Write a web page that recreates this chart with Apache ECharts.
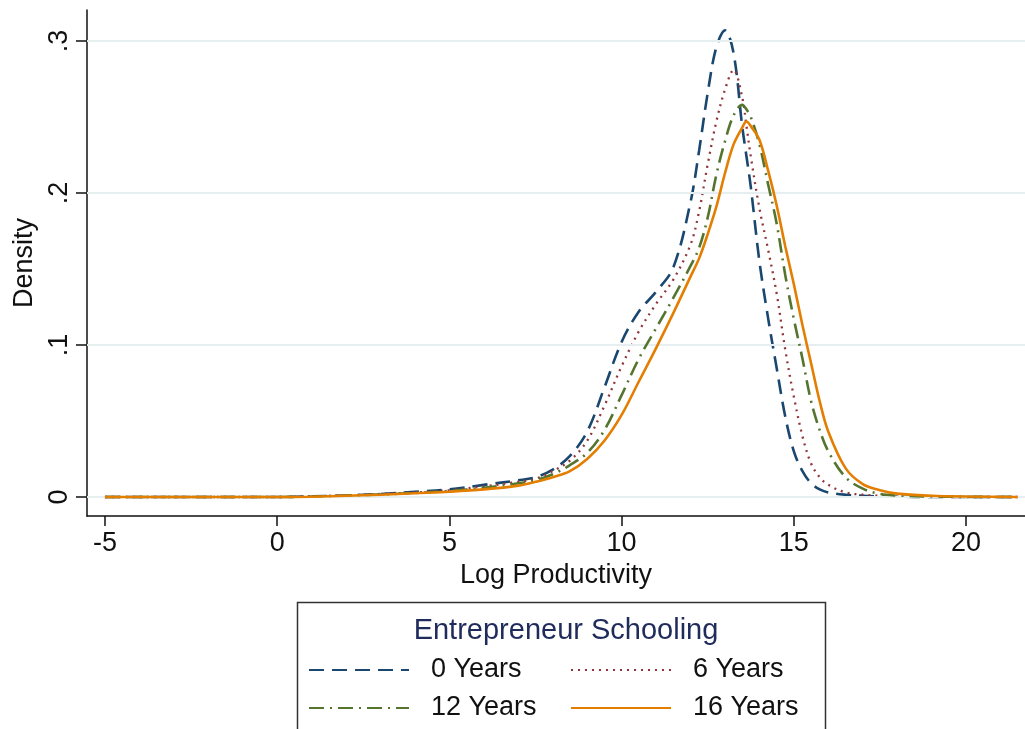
<!DOCTYPE html>
<html>
<head>
<meta charset="utf-8">
<script src="https://cdn.jsdelivr.net/npm/echarts@6/dist/echarts.min.js"></script>
<style>
html,body{margin:0;padding:0;background:#fff;}
#chart{width:1025px;height:729px;}
</style>
</head>
<body>
<div id="chart"></div>
<script>
// ---- data ----
const xs = [-5, -2, 0, 1, 2, 3, 4, 5, 6, 7, 7.5, 8, 8.5, 9, 9.5, 10, 10.5, 11, 11.5, 12, 12.25, 12.5, 12.75, 13, 13.25, 13.5, 13.625, 13.75, 14, 14.25, 14.5, 14.75, 15, 15.25, 15.5, 15.75, 16, 16.5, 17, 17.5, 18, 19, 20, 21.5];
const years0 = [0, 0, 0, 0.0005, 0.001, 0.002, 0.0035, 0.005, 0.008, 0.011, 0.013, 0.018, 0.027, 0.043, 0.072, 0.102, 0.122, 0.135, 0.151, 0.194, 0.228, 0.266, 0.296, 0.307, 0.292, 0.244, 0.224, 0.204, 0.155, 0.118, 0.085, 0.053, 0.03, 0.017, 0.009, 0.005, 0.003, 0.0015, 0.0008, 0.0004, 0.0002, 0, 0, 0];
const years6 = [0, 0, 0, 0.0004, 0.001, 0.002, 0.003, 0.0045, 0.007, 0.010, 0.012, 0.017, 0.024, 0.037, 0.060, 0.086, 0.109, 0.127, 0.143, 0.166, 0.188, 0.219, 0.247, 0.268, 0.281, 0.263, 0.244, 0.224, 0.19, 0.163, 0.134, 0.097, 0.066, 0.04, 0.022, 0.013, 0.008, 0.003, 0.0015, 0.0008, 0.0003, 0.0001, 0, 0];
const years12 = [0, 0, 0, 0.0003, 0.001, 0.0017, 0.0027, 0.004, 0.006, 0.009, 0.011, 0.015, 0.021, 0.029, 0.044, 0.067, 0.091, 0.111, 0.131, 0.152, 0.164, 0.184, 0.212, 0.234, 0.251, 0.258, 0.255, 0.25, 0.232, 0.206, 0.18, 0.146, 0.117, 0.091, 0.063, 0.044, 0.03, 0.013, 0.0055, 0.002, 0.001, 0.0003, 0.0001, 0];
const years16 = [0, 0, 0, 0.0002, 0.0008, 0.0015, 0.0025, 0.0035, 0.005, 0.0075, 0.010, 0.013, 0.017, 0.025, 0.037, 0.054, 0.076, 0.098, 0.121, 0.145, 0.157, 0.173, 0.191, 0.213, 0.232, 0.243, 0.247, 0.244, 0.235, 0.215, 0.192, 0.165, 0.14, 0.113, 0.088, 0.063, 0.043, 0.019, 0.0085, 0.0045, 0.0022, 0.0008, 0.0003, 0];
const seriesNames = ['0 Years', '6 Years', '12 Years', '16 Years'];
const xTicks = [-5, 0, 5, 10, 15, 20];
const yTicks = [0, 0.1, 0.2, 0.3];
const yTickLabels = ['0', '.1', '.2', '.3'];
const legendTitle = 'Entrepreneur Schooling';
const xTitle = 'Log Productivity';
const yTitle = 'Density';

// ---- styles ----
const FONT = 'Liberation Sans, Arial, sans-serif';
const FS = 27;
const colors = ['#1a476f', '#90353b', '#55752f', '#e37e00'];
const dashes = [[15, 8], [2, 5], [15, 6, 2, 6], 'solid'];
const widths = [2.6, 2.3, 2.6, 2.6];
const allValues = [years0, years6, years12, years16];

function pairs(vals) { return xs.map((x, i) => [x, vals[i]]); }

const series = allValues.map((vals, i) => ({
  name: seriesNames[i],
  type: 'line',
  data: pairs(vals),
  smooth: 0.35,
  symbol: 'none',
  showSymbol: false,
  z: 3 + i,
  lineStyle: { color: colors[i], width: widths[i], type: dashes[i] },
  itemStyle: { color: colors[i] }
}));
series.unshift({
  name: '__grid',
  type: 'line',
  data: [],
  z: 1,
  silent: true,
  markLine: {
    silent: true,
    symbol: ['none', 'none'],
    label: { show: false },
    lineStyle: { color: '#e6eef0', width: 2, type: 'solid' },
    data: yTicks.map(v => ({ yAxis: v }))
  }
});

function makeLegend(names, left) {
  return {
    data: names,
    orient: 'vertical',
    left: left,
    top: 655,
    height: 74,
    padding: 0,
    itemWidth: 100,
    itemHeight: 14,
    itemGap: 8,
    selectedMode: false,
    itemStyle: { opacity: 0 },
    textStyle: { fontSize: FS, color: '#111', lineHeight: 30, padding: [0, 0, 0, 17], fontFamily: FONT }
  };
}

const chart = echarts.init(document.getElementById('chart'), null, { renderer: 'canvas' });
chart.setOption({
  animation: false,
  backgroundColor: '#ffffff',
  textStyle: { fontFamily: FONT },
  grid: { left: 87, top: 10, right: 0, bottom: 213, containLabel: false },
  xAxis: {
    type: 'value',
    min: -5.52, max: 21.71,
    name: xTitle, nameLocation: 'middle', nameGap: 43,
    nameTextStyle: { fontSize: FS, color: '#111', fontFamily: FONT },
    axisLine: { show: true, onZero: false, lineStyle: { color: '#111', width: 1.5 } },
    axisTick: { show: true, inside: false, length: 10, customValues: xTicks, lineStyle: { color: '#111', width: 1.5 } },
    axisLabel: { customValues: xTicks, fontSize: FS, color: '#111', margin: 14, fontFamily: FONT },
    splitLine: { show: false }
  },
  yAxis: {
    type: 'value',
    min: -0.0125, max: 0.3204,
    name: yTitle, nameLocation: 'middle', nameGap: 48, nameRotate: 90,
    nameTextStyle: { fontSize: FS, color: '#111', fontFamily: FONT },
    axisLine: { show: true, onZero: false, lineStyle: { color: '#111', width: 1.5 } },
    axisTick: { show: true, inside: false, length: 11, customValues: yTicks, lineStyle: { color: '#111', width: 1.5 } },
    axisLabel: {
      customValues: yTicks, rotate: 90, fontSize: FS, color: '#111', margin: 14, fontFamily: FONT,
      formatter: function (v) { const k = yTicks.findIndex(t => Math.abs(t - v) < 1e-9); return k >= 0 ? yTickLabels[k] : ''; }
    },
    splitLine: { show: false }
  },
  title: {
    text: legendTitle,
    left: 561, top: 611, textAlign: 'center',
    textStyle: { fontSize: 29, fontWeight: 'normal', color: '#1f2b5b', fontFamily: FONT }
  },
  graphic: [{
    type: 'rect', z: 0,
    shape: { x: 297.5, y: 602.5, width: 528, height: 140 },
    style: { fill: '#fff', stroke: '#333', lineWidth: 1.5 }
  }],
  legend: [
    makeLegend([seriesNames[0], seriesNames[2]], 308),
    makeLegend([seriesNames[1], seriesNames[3]], 570)
  ],
  series: series
});
</script>
</body>
</html>
